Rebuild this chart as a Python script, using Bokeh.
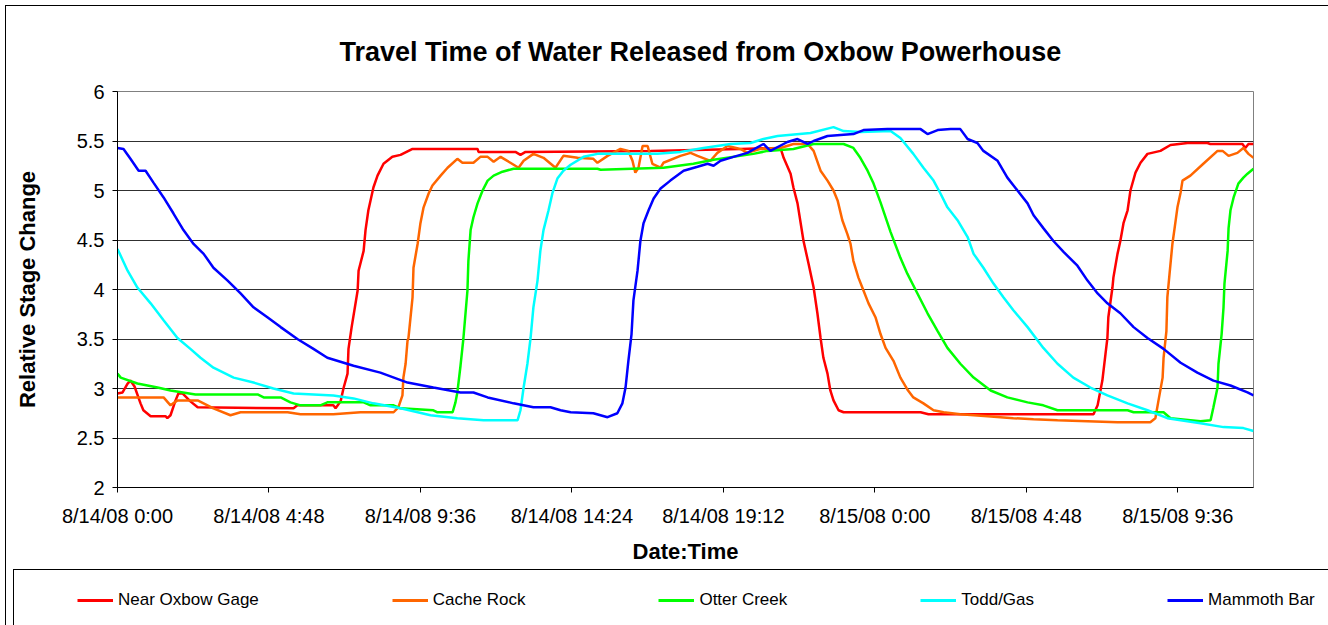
from bokeh.plotting import figure
from bokeh.layouts import column, row
from bokeh.models import Range1d, FixedTicker, Legend, LegendItem
from bokeh.embed import file_html
from bokeh.resources import INLINE

title_text = "Travel Time of Water Released from Oxbow Powerhouse"
x_title = "Date:Time"
y_title = "Relative Stage Change"

x_tick_hours = [0, 4.8, 9.6, 14.4, 19.2, 24, 28.8, 33.6]
x_tick_labels = ["8/14/08 0:00", "8/14/08 4:48", "8/14/08 9:36", "8/14/08 14:24",
                 "8/14/08 19:12", "8/15/08 0:00", "8/15/08 4:48", "8/15/08 9:36"]
y_tick_values = [2, 2.5, 3, 3.5, 4, 4.5, 5, 5.5, 6]
y_tick_labels = ["2", "2.5", "3", "3.5", "4", "4.5", "5", "5.5", "6"]

series_names = ["Near Oxbow Gage", "Cache Rock", "Otter Creek", "Todd/Gas", "Mammoth Bar"]
series_colors = ["#FF0000", "#FF6600", "#00FF00", "#00FFFF", "#0000FF"]

# hours since 8/14/08 0:00
red_hours = [0.00, 0.16, 0.32, 0.41, 0.54, 0.73, 0.82, 1.05, 1.52, 1.58, 1.68, 1.84, 1.93, 2.06, 2.31, 2.54,
             5.58, 5.70, 6.84, 6.91, 7.07, 7.16, 7.29, 7.32, 7.42, 7.61, 7.64, 7.80, 7.86, 7.95, 8.11, 8.24,
             8.43, 8.71, 8.97, 9.35, 11.41, 11.44, 12.61, 12.77, 12.93, 16.89, 19.74, 21.01, 21.11, 21.33,
             21.42, 21.55, 21.74, 21.90, 22.06, 22.18, 22.28, 22.37, 22.50, 22.59, 22.69, 22.85, 23.01,
             25.45, 25.70, 30.93, 31.06, 31.15, 31.21, 31.31, 31.37, 31.40, 31.53, 31.56, 31.69, 31.78,
             31.88, 32.01, 32.10, 32.26, 32.42, 32.64, 33.05, 33.37, 33.91, 34.54, 34.63, 35.65, 35.74,
             35.84, 36.00]
red_stage = [2.95, 2.96, 3.05, 3.08, 3.02, 2.85, 2.78, 2.72, 2.72, 2.70, 2.73, 2.88, 2.95, 2.95, 2.87, 2.81,
             2.80, 2.83, 2.83, 2.80, 2.87, 3.00, 3.15, 3.40, 3.62, 3.99, 4.19, 4.39, 4.60, 4.80, 5.03, 5.15,
             5.27, 5.34, 5.36, 5.42, 5.42, 5.39, 5.39, 5.36, 5.39, 5.40, 5.42, 5.43, 5.33, 5.17,
             5.03, 4.87, 4.49, 4.26, 4.02, 3.76, 3.51, 3.31, 3.15, 2.98, 2.88, 2.78, 2.76,
             2.76, 2.74, 2.74, 2.83, 2.98, 3.08, 3.35, 3.51, 3.72, 4.02, 4.12, 4.36, 4.49,
             4.67, 4.80, 5.00, 5.18, 5.28, 5.37, 5.40, 5.46, 5.48, 5.48, 5.47, 5.47, 5.43,
             5.47, 5.47]

orange_hours = [0.00, 1.46, 1.68, 1.90, 2.54, 3.04, 3.58, 3.90, 5.39, 5.80, 6.84, 7.70, 8.75, 8.90, 9.03,
                9.06, 9.13, 9.19, 9.22, 9.35, 9.38, 9.51, 9.60, 9.70, 9.86, 9.98, 10.24, 10.46, 10.77,
                10.93, 11.28, 11.50, 11.73, 11.92, 12.14, 12.45, 12.71, 12.87, 13.18, 13.50, 13.88, 14.13,
                14.58, 15.08, 15.21, 15.53, 15.94, 16.19, 16.32, 16.41, 16.51, 16.64, 16.80, 16.95, 17.21,
                17.30, 17.84, 18.16, 18.38, 18.79, 19.01, 19.33, 19.74, 19.96, 20.38, 21.01, 21.42, 21.87,
                22.06, 22.28, 22.50, 22.69, 22.82, 22.97, 23.13, 23.23, 23.32, 23.48, 23.64, 23.80, 24.02,
                24.18, 24.34, 24.59, 24.81, 25.03, 25.22, 25.54, 25.86, 26.18, 26.71, 27.57, 28.39, 29.03,
                29.79, 31.69, 32.73, 32.89, 32.99, 33.12, 33.15, 33.24, 33.27, 33.34, 33.43, 33.50, 33.59,
                33.69, 33.75, 34.00, 34.41, 34.86, 35.02, 35.21, 35.49, 35.68, 35.84, 36.00]
orange_stage = [2.91, 2.91, 2.83, 2.88, 2.88, 2.80, 2.73, 2.76, 2.76, 2.74, 2.74, 2.76, 2.76, 2.81, 2.93,
                3.11, 3.25, 3.48, 3.51, 3.92, 4.22, 4.46, 4.67, 4.83, 4.97, 5.05, 5.15, 5.23, 5.32,
                5.28, 5.28, 5.34, 5.34, 5.29, 5.34, 5.28, 5.23, 5.30, 5.37, 5.33, 5.23, 5.35,
                5.33, 5.32, 5.28, 5.35, 5.42, 5.40, 5.30, 5.18, 5.23, 5.45, 5.45, 5.27, 5.23,
                5.28, 5.35, 5.38, 5.35, 5.30, 5.38, 5.45, 5.42, 5.38, 5.42, 5.43, 5.47, 5.47,
                5.40, 5.20, 5.10, 5.00, 4.90, 4.70, 4.56, 4.46, 4.29, 4.12, 3.99, 3.86, 3.72,
                3.55, 3.41, 3.28, 3.11, 2.99, 2.91, 2.85, 2.78, 2.76, 2.74, 2.72, 2.70, 2.69,
                2.68, 2.66, 2.66, 2.70, 2.88, 3.11, 3.31, 3.58, 3.92, 4.16, 4.46, 4.62, 4.83,
                4.98, 5.10, 5.15, 5.27, 5.40, 5.40, 5.35, 5.38, 5.43, 5.37, 5.33]

green_hours = [0.00, 0.10, 0.63, 1.27, 1.68, 2.47, 4.44, 4.63, 5.17, 5.48, 5.80, 6.43, 6.65, 7.80, 8.02,
               8.75, 8.97, 10.01, 10.14, 10.62, 10.71, 10.77, 10.87, 10.96, 11.09, 11.12, 11.19, 11.28,
               11.41, 11.57, 11.73, 11.92, 12.20, 12.55, 15.21, 15.31, 17.30, 18.25, 18.89, 20.15, 20.60,
               21.42, 22.06, 23.01, 23.32, 23.54, 23.77, 23.96, 24.18, 24.50, 24.81, 25.03, 25.35, 25.67,
               25.99, 26.30, 26.71, 27.13, 27.67, 28.20, 28.84, 29.34, 29.79, 32.01, 32.20, 33.15, 33.37,
               34.32, 34.64, 34.73, 34.86, 34.89, 34.99, 35.05, 35.08, 35.18, 35.21, 35.27, 35.37, 35.52,
               35.68, 35.81, 36.00]
green_stage = [3.15, 3.11, 3.05, 3.01, 2.98, 2.94, 2.94, 2.91, 2.91, 2.86, 2.83, 2.83, 2.86, 2.86, 2.83,
               2.83, 2.80, 2.78, 2.76, 2.76, 2.86, 2.96, 3.23, 3.50, 3.99, 4.29, 4.60, 4.73,
               4.87, 5.00, 5.10, 5.15, 5.19, 5.22, 5.22, 5.21, 5.23, 5.27, 5.31, 5.37, 5.40,
               5.42, 5.47, 5.47, 5.43, 5.33, 5.20, 5.07, 4.88, 4.58, 4.32, 4.16, 3.96, 3.76,
               3.58, 3.41, 3.25, 3.11, 2.98, 2.91, 2.86, 2.83, 2.78, 2.78, 2.76, 2.76, 2.70,
               2.67, 2.68, 2.81, 3.01, 3.25, 3.55, 3.82, 4.06, 4.39, 4.62, 4.80, 4.93, 5.07,
               5.13, 5.17, 5.22]

cyan_hours = [0.00, 0.32, 0.63, 1.05, 1.46, 1.90, 2.31, 2.63, 3.04, 3.68, 4.31, 4.94, 5.58, 6.84, 7.48,
              8.11, 8.97, 9.92, 10.77, 11.60, 12.68, 12.77, 12.87, 12.99, 13.09, 13.18, 13.31, 13.40,
              13.50, 13.66, 13.78, 13.94, 14.13, 14.36, 14.77, 15.21, 17.11, 17.84, 18.57, 19.43, 20.06,
              20.47, 20.92, 21.96, 22.69, 23.01, 23.55, 24.50, 24.81, 25.22, 25.54, 25.86, 26.08, 26.30,
              26.62, 26.94, 27.13, 27.44, 27.76, 28.08, 28.39, 28.84, 29.34, 29.79, 30.29, 30.83, 31.37,
              32.01, 32.64, 33.27, 34.32, 35.05, 35.68, 36.00]
cyan_stage = [4.41, 4.19, 4.02, 3.86, 3.69, 3.51, 3.40, 3.31, 3.21, 3.11, 3.06, 3.00, 2.95, 2.93, 2.90,
              2.85, 2.80, 2.73, 2.70, 2.68, 2.68, 2.78, 3.01, 3.25, 3.51, 3.82, 4.09, 4.39,
              4.60, 4.80, 4.97, 5.12, 5.20, 5.26, 5.34, 5.37, 5.37, 5.39, 5.43, 5.47, 5.48,
              5.52, 5.55, 5.58, 5.64, 5.60, 5.59, 5.60, 5.53, 5.37, 5.23, 5.10, 4.97, 4.83,
              4.70, 4.53, 4.36, 4.22, 4.06, 3.92, 3.79, 3.62, 3.41, 3.25, 3.11, 3.01, 2.93,
              2.85, 2.78, 2.70, 2.65, 2.61, 2.60, 2.57]

blue_hours = [0.00, 0.19, 0.41, 0.67, 0.89, 1.14, 1.46, 1.77, 2.09, 2.41, 2.73, 3.04, 3.49, 3.90, 4.31,
              4.75, 5.17, 5.70, 6.21, 6.65, 7.48, 8.33, 9.19, 10.01, 10.87, 11.28, 11.73, 12.55, 13.18,
              13.72, 14.04, 14.36, 15.08, 15.53, 15.84, 16.00, 16.10, 16.19, 16.29, 16.35, 16.48, 16.57,
              16.67, 16.83, 16.99, 17.21, 17.52, 17.94, 18.38, 18.70, 18.89, 19.11, 19.52, 19.96, 20.47,
              20.69, 21.23, 21.55, 21.87, 22.06, 22.50, 23.32, 23.64, 24.40, 25.45, 25.67, 25.99, 26.40,
              26.71, 26.94, 27.25, 27.44, 27.89, 28.20, 28.52, 28.84, 29.03, 29.34, 29.66, 29.98, 30.42,
              30.74, 31.06, 31.37, 31.78, 32.20, 32.64, 33.15, 33.69, 34.22, 34.73, 35.27, 35.81, 36.00]
blue_stage = [5.43, 5.42, 5.32, 5.20, 5.20, 5.08, 4.93, 4.77, 4.60, 4.46, 4.36, 4.22, 4.09, 3.96, 3.82,
              3.72, 3.62, 3.50, 3.40, 3.31, 3.23, 3.16, 3.06, 3.01, 2.96, 2.96, 2.91, 2.85, 2.81,
              2.81, 2.78, 2.76, 2.75, 2.71, 2.75, 2.85, 3.01, 3.28, 3.55, 3.89, 4.19, 4.49,
              4.67, 4.80, 4.92, 5.02, 5.10, 5.20, 5.24, 5.27, 5.25, 5.30, 5.34, 5.38, 5.47,
              5.40, 5.49, 5.52, 5.47, 5.50, 5.55, 5.57, 5.61, 5.62, 5.62, 5.57, 5.61, 5.62,
              5.62, 5.52, 5.48, 5.40, 5.30, 5.13, 5.00, 4.87, 4.75, 4.62, 4.49, 4.38, 4.24,
              4.09, 3.96, 3.86, 3.76, 3.62, 3.51, 3.40, 3.26, 3.16, 3.08, 3.03, 2.96, 2.93]

series_hours = [red_hours, orange_hours, green_hours, cyan_hours, blue_hours]
series_stage = [red_stage, orange_stage, green_stage, cyan_stage, blue_stage]

FONT = "Liberation Sans"

# ---------------- main chart ----------------
p = figure(width=1322, height=563, output_backend="svg", toolbar_location=None,
           x_range=Range1d(0, 36), y_range=Range1d(2, 6),
           min_border_left=111, min_border_right=75, min_border_top=85, min_border_bottom=82)
p.background_fill_color = "white"
p.border_fill_color = "white"
p.outline_line_color = "#808080"
p.outline_line_width = 1

p.title.text = title_text
p.title.align = "left"
p.title.offset = 222
p.title.standoff = 50
p.title.text_font = FONT
p.title.text_font_style = "bold"
p.title.text_font_size = "27px"
p.title.text_color = "black"

p.xgrid.visible = False
p.ygrid.grid_line_color = "#303030"
p.ygrid.grid_line_width = 1

p.xaxis.ticker = FixedTicker(ticks=x_tick_hours)
p.xaxis.major_label_overrides = {t: s for t, s in zip(x_tick_hours, x_tick_labels)}
p.yaxis.ticker = FixedTicker(ticks=y_tick_values)
p.yaxis.major_label_overrides = {t: s for t, s in zip(y_tick_values, y_tick_labels)}

for ax in (p.xaxis[0], p.yaxis[0]):
    ax.axis_line_color = "black"
    ax.axis_line_width = 1
    ax.major_tick_line_color = "black"
    ax.major_tick_in = 0
    ax.major_tick_out = 5
    ax.minor_tick_line_color = None
    ax.major_label_text_font = FONT
    ax.major_label_text_font_size = "20px"
    ax.major_label_text_color = "black"
    ax.axis_label_text_font = FONT
    ax.axis_label_text_font_style = "bold"
    ax.axis_label_text_font_size = "22px"
    ax.axis_label_text_color = "black"

p.xaxis.axis_label = x_title
p.xaxis.major_label_standoff = 12
p.xaxis.axis_label_standoff = 9
p.yaxis.axis_label = y_title
p.yaxis.major_label_standoff = 8
p.yaxis.axis_label_standoff = 34

for hrs, stg, col in zip(series_hours, series_stage, series_colors):
    p.line(hrs, stg, line_color=col, line_width=2.5)

# ---------------- legend strip ----------------
pl = figure(width=1314, height=55, output_backend="svg", toolbar_location=None,
            x_range=Range1d(0, 1), y_range=Range1d(0, 1),
            x_axis_type=None, y_axis_type=None,
            min_border_left=0, min_border_right=0, min_border_top=0, min_border_bottom=0)
pl.grid.visible = False
pl.outline_line_color = None
pl.background_fill_color = "white"
pl.border_fill_color = "white"

nan = float("nan")
proxies = [pl.line(x=[nan], y=[nan], line_color=c, line_width=3) for c in series_colors]

legend = Legend(items=[LegendItem(label=n, renderers=[r]) for n, r in zip(series_names, proxies)],
                orientation="horizontal", location=(63, 15), spacing=133, padding=0, margin=0,
                glyph_width=36, glyph_height=20, label_standoff=5,
                label_text_font=FONT, label_text_font_size="17px", label_text_color="black",
                border_line_color=None, background_fill_alpha=0)
pl.add_layout(legend)

legend_row = row(pl, margin=(0, 0, 0, 7),
                 styles={"border-left": "1px solid black", "border-top": "1px solid black"})

layout = column(p, legend_row, spacing=0, margin=(5, 0, 0, 5),
                styles={"border-left": "1px solid black", "border-top": "1px solid black"})

open("out.html", "w").write(file_html(layout, INLINE))
